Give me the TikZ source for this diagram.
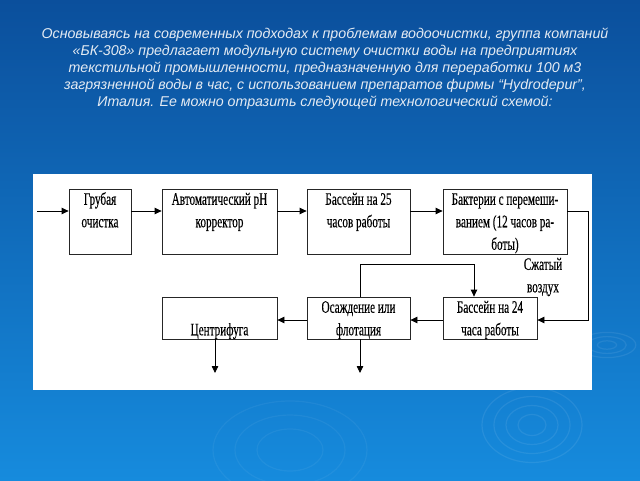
\documentclass[tikz,border=0pt]{standalone}
\usepackage{fontspec}
\setmainfont{Liberation Serif}
\newfontfamily\titlefont{Liberation Sans}
\newfontfamily\boxfont[FakeStretch=0.64,FakeBold=0.25]{Liberation Serif}
\usetikzlibrary{arrows.meta,calc}
\definecolor{bgtop}{HTML}{0B4F9C}
\definecolor{bgbot}{HTML}{168BDD}
\definecolor{titlecol}{HTML}{E4EBF3}
\newcommand\boxtxt[3]{\parbox[c][#2pt][t]{#1pt}{\centering\boxfont\fontsize{17.5}{22.5}\selectfont\strut #3}}
\tikzset{
  blk/.style={draw=black!85, line width=0.8pt, inner sep=0pt, fill=white},
  con/.style={draw=black, line width=0.8pt},
  arr/.style={con, -{Triangle[length=7pt,width=6.5pt]}},
  ripple/.style={draw=white, opacity=0.08, line width=1.2pt}
}
\begin{document}
\begin{tikzpicture}[x=1pt,y=-1pt]
\useasboundingbox (0,0) rectangle (640,480);
\shade[top color=bgtop, bottom color=bgbot] (0,0) rectangle (640,480);
% ripples
\foreach \r in {6,12,18}{\draw[ripple] (607,345) ellipse ({\r*1.6} and {\r*0.7});}
\foreach \r in {14,26,38,50}{\draw[ripple] (532,425) ellipse ({\r} and {\r*0.75});}
\foreach \r in {30,50,70}{\draw[ripple, opacity=0.05] (290,450) ellipse ({\r*1.1} and {\r*0.7});}
% title
\node[titlecol, font=\titlefont\itshape\fontsize{14.2}{17}\selectfont, align=center] (title) at (325,69)
 {Основываясь на современных подходах к проблемам водоочистки, группа компаний\\
 «БК-308» предлагает модульную систему очистки воды на предприятиях\\
 текстильной промышленности, предназначенную для переработки 100 м3\\
 загрязненной воды в час, с использованием препаратов фирмы “Hydrodepur”,\\
 Италия. Ее можно отразить следующей технологический схемой:};
% panel
\fill[white] (33,174) rectangle (592,390);
% boxes
\node[blk] (b1) at (100,221.5) {\boxtxt{62}{65}{Грубая\\очистка}};
\node[blk] (b2) at (219.5,221.5) {\boxtxt{115}{65}{Автоматический рН\\корректор}};
\node[blk] (b3) at (358.5,221.5) {\boxtxt{103}{65}{Бассейн на 25\\часов работы}};
\node[blk] (b4) at (505,221.5) {\boxtxt{124}{65}{Бактерии с перемеши-\\ванием (12 часов ра-\\боты)}};
\node[blk] (b5) at (490,318) {\boxtxt{94}{42}{Бассейн на 24\\часа работы}};
\node[blk] (b6) at (358.5,318) {\boxtxt{103}{42}{Осаждение или\\флотация}};
\node[blk] (b7) at (219.5,318) {\boxtxt{115}{42}{\mbox{}\\Центрифуга}};
\node[font=\boxfont\fontsize{17.5}{22.5}\selectfont, align=center, inner sep=0pt] (air) at (543,277) {Сжатый\\воздух};
% coordinates
\coordinate (in) at (37,211);
\coordinate (rb) at (0,320);
\coordinate (c2) at (588,320);
\coordinate (l1) at (360,264);
\coordinate (l2) at (474,264);
\coordinate (o1) at (360,373);
\coordinate (o2) at (215,373);
% connectors
\draw[arr] (in) -- (in -| b1.west);
\draw[arr] (b1.east |- in) -- (b2.west |- in);
\draw[arr] (b2.east |- in) -- (b3.west |- in);
\draw[arr] (b3.east |- in) -- (b4.west |- in);
\draw[arr] (b4.east |- in) -| (c2) -- (b5.east |- rb);
\draw[arr] (b5.west |- rb) -- (b6.east |- rb);
\draw[arr] (b6.west |- rb) -- (b7.east |- rb);
\draw[arr] (b6.north -| l1) -- (l1) -- (l2) -- (b5.north -| l2);
\draw[arr] (b6.south -| l1) -- (o1);
\draw[arr] (b7.south -| o2) -- (o2);
\end{tikzpicture}
\end{document}
